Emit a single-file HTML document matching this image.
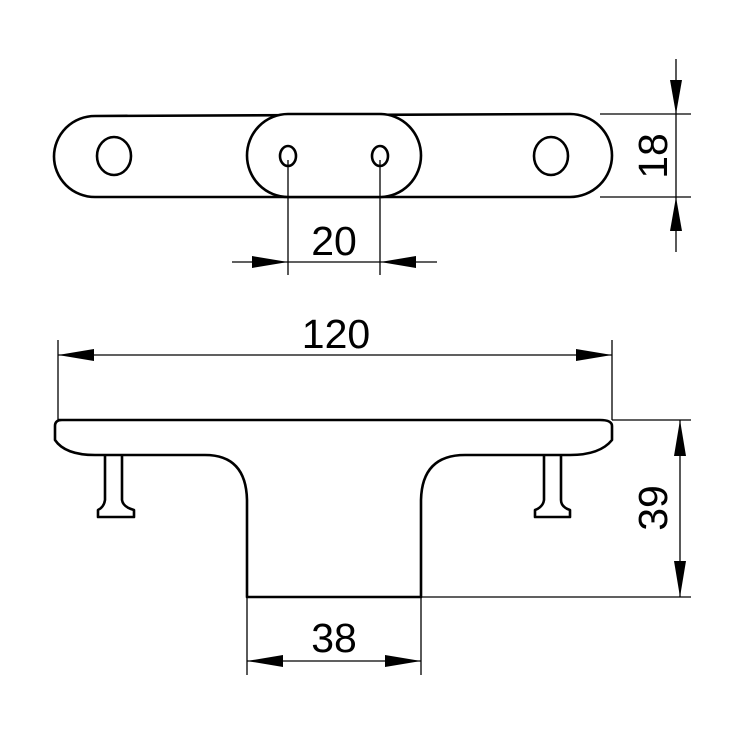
<!DOCTYPE html>
<html><head><style>
html,body{margin:0;padding:0;background:#fff;}
svg{display:block;}
text{font-family:"Liberation Sans",Arial,sans-serif;font-size:41px;fill:#000;}
</style></head><body>
<svg width="750" height="750" viewBox="0 0 750 750" xmlns="http://www.w3.org/2000/svg">
<g fill="none" stroke="#000" stroke-width="2.6" stroke-linejoin="round">
  <!-- top view plate -->
  <path d="M95,116 L570,114 A42,41.5 0 0 1 570,197 L95,197 A41,40.5 0 0 1 95,116 Z"/>
  <rect x="247" y="114" width="174" height="83" rx="41" ry="41.5" fill="#fff"/>
  <ellipse cx="114" cy="156" rx="17" ry="19"/>
  <ellipse cx="551" cy="156" rx="17" ry="19"/>
  <ellipse cx="288" cy="156" rx="8" ry="10"/>
  <ellipse cx="380" cy="156" rx="8" ry="10"/>
  <!-- side view -->
  <path d="M58,420 Q60,420 70,420 L600,420 Q612,420 612,426 L612,440 Q600,455 570,455 L465,455 Q422,455 421,500 L421,597 L247,597 L247,500 Q246,455 205,455 L95,455 Q65,455 55,440 L55,426 Q55,420 62,420"/>
  <path d="M105,456 L105,500 Q104,507 98,510 L98,517 L134,517 L134,510 Q123,507 122,500 L122,456"/>
  <path d="M544,456 L544,500 Q543,507 535,510 L535,517 L570,517 L570,510 Q561,507 561,500 L561,456"/>
</g>
<g stroke="#000" stroke-width="1.3" fill="none">
  <!-- 18 -->
  <line x1="600" y1="114" x2="691" y2="114"/>
  <line x1="600" y1="197" x2="691" y2="197"/>
  <line x1="676" y1="59" x2="676" y2="252"/>
  <!-- 20 -->
  <line x1="288" y1="160" x2="288" y2="275"/>
  <line x1="380" y1="160" x2="380" y2="275"/>
  <line x1="232" y1="262" x2="437" y2="262"/>
  <!-- 120 -->
  <line x1="58" y1="340" x2="58" y2="420"/>
  <line x1="612" y1="340" x2="612" y2="420"/>
  <line x1="58" y1="355" x2="612" y2="355"/>
  <!-- 39 -->
  <line x1="612" y1="420" x2="691" y2="420"/>
  <line x1="421" y1="597" x2="691" y2="597"/>
  <line x1="680" y1="420" x2="680" y2="597"/>
  <!-- 38 -->
  <line x1="247" y1="597" x2="247" y2="675"/>
  <line x1="421" y1="597" x2="421" y2="675"/>
  <line x1="247" y1="661" x2="421" y2="661"/>
</g>
<g fill="#000">
  <!-- 18 arrows -->
  <polygon points="676,114 670,80 682,80"/>
  <polygon points="676,197 670,231 682,231"/>
  <!-- 20 arrows -->
  <polygon points="288,262 252,256 252,268"/>
  <polygon points="380,262 416,256 416,268"/>
  <!-- 120 arrows -->
  <polygon points="58,355 94,349 94,361"/>
  <polygon points="612,355 576,349 576,361"/>
  <!-- 39 arrows -->
  <polygon points="680,420 674,456 686,456"/>
  <polygon points="680,597 674,561 686,561"/>
  <!-- 38 arrows -->
  <polygon points="247,661 283,655 283,667"/>
  <polygon points="421,661 385,655 385,667"/>
</g>
<text x="334" y="255" text-anchor="middle">20</text>
<text x="336" y="348" text-anchor="middle">120</text>
<text x="334" y="652" text-anchor="middle">38</text>
<text transform="translate(667,156) rotate(-90)" text-anchor="middle">18</text>
<text transform="translate(667,508) rotate(-90)" text-anchor="middle">39</text>
</svg>
</body></html>
